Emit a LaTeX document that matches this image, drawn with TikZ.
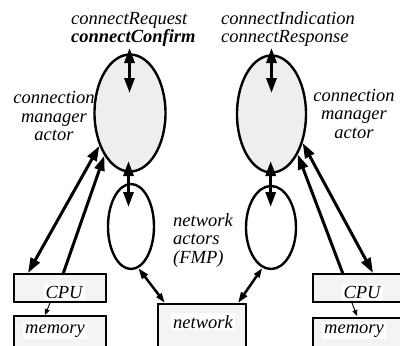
\documentclass[tikz,border=0pt]{standalone}
\usepackage{fontspec}
\setmainfont{Liberation Serif}
\usetikzlibrary{arrows.meta,shapes.geometric}
\definecolor{ellfill}{HTML}{EEEEEE}
\definecolor{boxfill}{HTML}{F4F4F4}
\begin{document}
\begin{tikzpicture}[x=1pt,y=-1pt,
  lbl/.style={font=\fontsize{18.5}{18.5}\selectfont\itshape, inner sep=0pt},
  bigell/.style={ellipse, draw, line width=2.4pt, fill=ellfill, inner sep=0pt},
  smallell/.style={ellipse, draw, line width=2.4pt, fill=white, inner sep=0pt},
  unit/.style={rectangle, draw, line width=2.4pt, fill=boxfill, inner sep=0pt},
  boxtext/.style={lbl, fill=white, inner sep=2pt},
  thickarrow/.style={line width=3pt, -{Triangle[length=15pt,width=10pt]}},
  dbl/.style={line width=3pt, {Triangle[length=15pt,width=10pt]}-{Triangle[length=15pt,width=10pt]}},
  netarrow/.style={line width=2.5pt, {Triangle[length=11pt,width=7pt]}-{Triangle[length=10pt,width=6pt]}},
  memarrow/.style={line width=0.9pt, -{Triangle[length=6pt,width=5pt]}}
]
\useasboundingbox (0,0) rectangle (400,346);

% ellipses
\node[bigell, minimum width=71pt, minimum height=117pt] (cmL) at (130,113) {};
\node[bigell, minimum width=69pt, minimum height=117pt] (cmR) at (271.5,114) {};
\node[smallell, minimum width=46pt, minimum height=85pt] (naL) at (131,226.5) {};
\node[smallell, minimum width=50pt, minimum height=83pt] (naR) at (271,227.5) {};

% boxes
\node[unit, minimum width=91.5pt, minimum height=27.5pt] (cpuL) at (60,288) {};
\node[unit, minimum width=91.5pt, minimum height=40pt] (memL) at (60,336.2) {};
\node[unit, minimum width=100pt, minimum height=27.5pt] (cpuR) at (363.2,288) {};
\node[unit, minimum width=100pt, minimum height=40pt] (memR) at (363.2,338) {};
\node[unit, minimum width=87.5pt, minimum height=50pt] (net) at (202,329.2) {};

% helper coordinates
\coordinate (tL) at (129.5,93);
\coordinate (tLtop) at (129.5,48);
\coordinate (tR) at (271.5,93);
\coordinate (tRtop) at (271.5,48);
\coordinate (mL1) at (128.5,161);
\coordinate (mL2) at (128.5,207);
\coordinate (mR1) at (270.7,161);
\coordinate (mR2) at (270.7,207);
\coordinate (aL1) at (28,273);
\coordinate (aL2) at (63,274);
\coordinate (aR1) at (343,274);
\coordinate (aR2) at (373,273);
\coordinate (nL) at (165,303);
\coordinate (nR) at (238,303);
\coordinate (cmemL1) at (50,303);
\coordinate (cmemL2) at (45,315);
\coordinate (cmemR1) at (352,303);
\coordinate (cmemR2) at (357,316);

% arrows
\draw[dbl] (tLtop) -- (tL);
\draw[dbl] (tRtop) -- (tR);
\draw[dbl] (mL1) -- (mL2);
\draw[dbl] (mR1) -- (mR2);
\draw[dbl] (cmL.227.5) -- (aL1);
\draw[thickarrow] (aL2) -- (cmL.239.5);
\draw[thickarrow] (aR1) -- (cmR.303);
\draw[dbl] (cmR.317.8) -- (aR2);
\draw[netarrow] (naL.280) -- (nL);
\draw[netarrow] (nR) -- (naR.258);
\draw[memarrow] (cmemL1) -- (cmemL2);
\draw[memarrow] (cmemR1) -- (cmemR2);

% texts (base anchor of a multi-line node = baseline of its last line)
\node[lbl, anchor=base west, align=left] (reqL) at (71,42.5) {connectRequest\\\textbf{connectConfirm}};
\node[lbl, anchor=base west, align=left] (indR) at (221,42.5) {connectIndication\\connectResponse};
\node[lbl, anchor=base, align=center] (cmLt) at (54,140.5) {connection\\manager\\actor};
\node[lbl, anchor=base, align=center] (cmRt) at (354,138) {connection\\manager\\actor};
\node[lbl, anchor=base west, align=left] (nat) at (173,263) {network\\actors\\(FMP)};
\node[boxtext, anchor=base] (cpuLt) at (64,298) {CPU};
\node[boxtext, anchor=base] (memLt) at (55,333) {memory};
\node[boxtext, anchor=base] (cpuRt) at (362,298) {CPU};
\node[boxtext, anchor=base] (memRt) at (354,333) {memory};
\node[boxtext, anchor=base] (nett) at (203,328) {network};
\end{tikzpicture}
\end{document}
